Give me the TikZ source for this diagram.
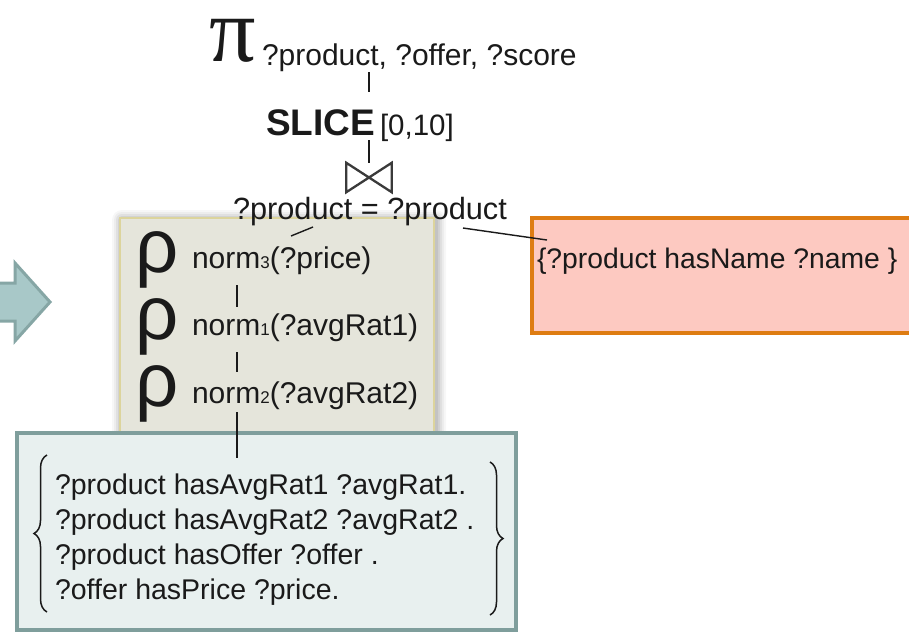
\documentclass[tikz,border=0pt]{standalone}
\usepackage{fontspec}
\setmainfont{Liberation Sans}
\newfontfamily\greekfont{Liberation Serif}
\usetikzlibrary{calc,decorations.pathreplacing}
\newcommand\setfs[1]{\fontsize{#1}{#1}\selectfont}
\definecolor{ink}{HTML}{1A1A1A}
\definecolor{arrowfill}{HTML}{A8C8C8}
\definecolor{arrowedge}{HTML}{86A6A5}
\definecolor{beigefill}{HTML}{E5E5DB}
\definecolor{beigeedge}{HTML}{DCD49C}
\definecolor{tealfill}{HTML}{E8F0EF}
\definecolor{tealedge}{HTML}{7F9E9C}
\definecolor{redfill}{HTML}{FDC9C1}
\definecolor{rededge}{HTML}{DE7C12}
\definecolor{joincol}{HTML}{3A3A3A}
\begin{document}
\begin{tikzpicture}[x=1pt,y=-1pt,
  txt/.style={inner sep=0pt, outer sep=0pt, anchor=base west, text=ink},
  conn/.style={draw=ink, line width=1.4pt},
  panel/.style={anchor=north west, inner sep=0pt, outer sep=0pt},
  rho/.style={txt, font=\setfs{76}},
  normlabel/.style={txt, font=\setfs{30}},
  bracestroke/.style={draw=ink, line width=1.5pt,
    decorate, decoration={brace, amplitude=13pt}}]
\clip (0,0) rectangle (909,633);
\fill[white] (0,0) rectangle (909,633);

% incoming block arrow on the left
\draw[fill=arrowfill, draw=arrowedge, line width=3pt, line join=miter]
  (-5,283) -- (15,283) -- (15,263) -- (50,302) -- (15,341) -- (15,321) -- (-5,321) -- cycle;

% soft shadow behind the operator panel
\foreach \s/\o in {10/0.03,8/0.04,6/0.05,4/0.06,2/0.07}
  \fill[black, opacity=\o, rounded corners=\s pt]
    (120-\s+2,218-\s+2) rectangle (434+\s+2,433+\s+2);

% panels
\node[panel, draw=beigeedge, fill=beigefill, line width=2pt,
      minimum width=314pt, minimum height=215pt] (opbox) at (120,218) {};
\node[panel, draw=tealedge, fill=tealfill, line width=4.5pt,
      minimum width=499pt, minimum height=197pt] (bgpbox) at (17,433) {};
\node[panel, draw=rededge, fill=redfill, line width=4pt,
      minimum width=400pt, minimum height=115pt] (namebox) at (532,218) {};

% projection and slice
\node[txt, font=\greekfont\setfs{92}] (pi) at (209,61) {π};
\node[txt, font=\setfs{30}] (projvars) at (262,65) {?product, ?offer, ?score};
\node[txt, font=\bfseries\setfs{37}] (slice) at (266,135) {SLICE};
\node[txt, font=\setfs{29.5}] (range) at (380,135) {[0,10]};

% join symbol
\node[minimum width=45pt, minimum height=29pt, inner sep=0pt] (join) at (369,177.5) {};
\draw[line width=2.3pt, draw=joincol, line join=miter]
  (join.north west) -- (join.south west) -- (join.north east) -- (join.south east) -- cycle;
\node[txt, font=\setfs{30.7}] (cond) at (233,219) {?product = ?product};

% extend operators
\node[rho] (r1) at (135,272) {ρ};
\node[rho] (r2) at (135,339) {ρ};
\node[rho] (r3) at (135,406) {ρ};
\node[normlabel] (n3) at (192,268) {norm{\setfs{17}3}(?price)};
\node[normlabel] (n1) at (192,335) {norm{\setfs{17}1}(?avgRat1)};
\node[normlabel] (n2) at (192,403) {norm{\setfs{17}2}(?avgRat2)};

% basic graph pattern
\node[txt, font=\fontsize{28.5}{35}\selectfont, align=left] (bgp) at (55,599)
  {?product hasAvgRat1 ?avgRat1.\\
   ?product hasAvgRat2 ?avgRat2 .\\
   ?product hasOffer ?offer .\\
   ?offer hasPrice ?price.};
\draw[bracestroke] (47,612) -- (47,455);
\draw[bracestroke] (490,462) -- (490,615);

% second pattern
\node[txt, font=\setfs{28.3}] (nametp) at (537,268) {\{?product hasName ?name \}};

% tree edges
\draw[conn] ($(projvars.base west -| join)+(0,7)$) -- ($(slice.base west -| join)+(0,-43)$);
\draw[conn] ($(slice.base west -| join)+(0,5)$) -- (join.north);
\draw[conn] ($(cond.base west)+(80,8)$) -- ($(n3.base west)+(99,-32)$);
\draw[conn] ($(cond.base west)+(230,9)$) -- ($(nametp.base west)+(10,-28)$);
\draw[conn] ($(n3.base west)+(45,17)$) -- ($(n1.base west)+(45,-28)$);
\draw[conn] ($(n1.base west)+(45,17)$) -- ($(n2.base west)+(45,-31)$);
\draw[conn] ($(n2.base west)+(45,9)$) -- ($(bgp.north west)+(182,-15)$);
\end{tikzpicture}
\end{document}
